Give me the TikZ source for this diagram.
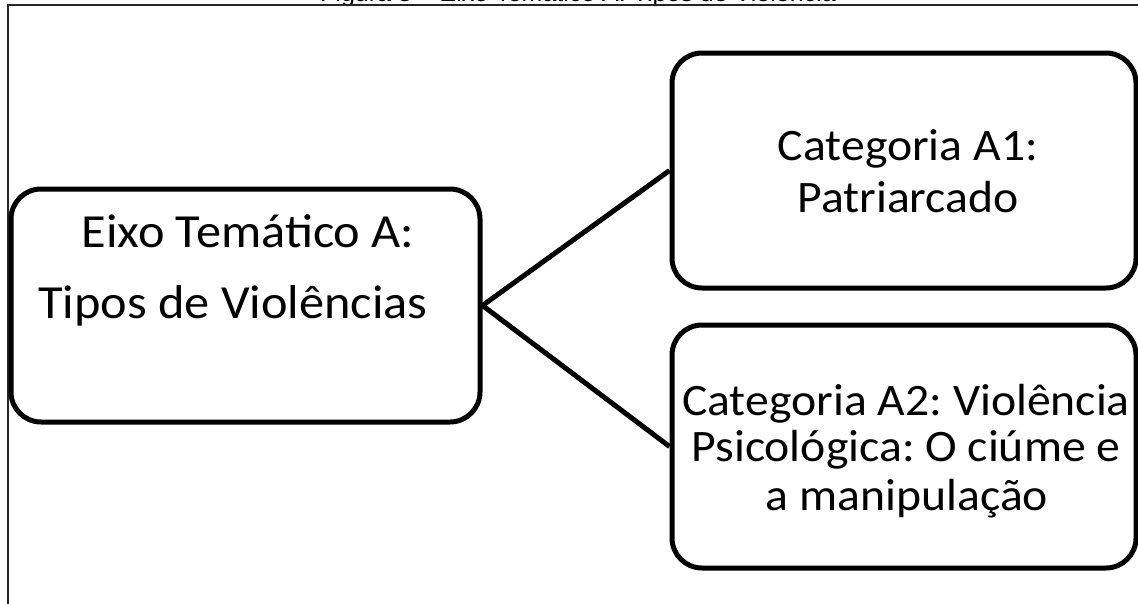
\documentclass[tikz,border=0pt]{standalone}
\usepackage{fontspec}
\setmainfont{Carlito}
\newfontfamily\boxfont[FakeStretch=1.06]{Carlito}
\newfontfamily\captionfont{Liberation Sans}
\frenchspacing
\begin{document}
\begin{tikzpicture}[x=1pt, y=-1pt,
  catbox/.style={draw=black, line width=5pt, rounded corners=30pt,
    rectangle, inner sep=0pt, fill=white},
  boxtext/.style={anchor=base, inner sep=0pt, font=\boxfont\fontsize{45pt}{46pt}\selectfont},
  bigtext/.style={anchor=base, inner sep=0pt, font=\boxfont\fontsize{47.5pt}{48pt}\selectfont},
  upper/.style={text depth=0pt},
  link/.style={draw=black, line width=5pt},
  frameline/.style={draw=black!85, line width=2pt}
]
\useasboundingbox (0,0) rectangle (1138,603);
\fill[white] (0,0) rectangle (1138,603);

% caption above the frame, mostly cut by the page edge
\begin{scope}
  \clip (0,0) rectangle (1138,603);
  \node[anchor=base west, inner sep=0pt, font=\captionfont\fontsize{25pt}{25pt}\selectfont]
    (caption) at (320,1.2) {Figura 3 – Eixo Temático A: Tipos de Violência};
\end{scope}

% outer frame
\draw[frameline] (1140,5) -- (8,5) -- (8,605);

% boxes
\node[catbox, minimum width=469pt, minimum height=233pt] (eixo) at (245.5,305.5) {};
\node[catbox, minimum width=464pt, minimum height=235pt] (cat1) at (904,170.5) {};
\node[catbox, minimum width=464pt, minimum height=243pt] (cat2) at (904,446.5) {};

% connectors
\coordinate (hub) at (eixo.east);
\draw[link, line join=miter] (cat1.west) -- (hub) -- (cat2.west);

% labels
\node[bigtext] (eixoA) at (248,247) {Eixo Temático A:};
\node[bigtext] (eixoB) at (233,318) {Tipos de Violências};

\node[boxtext, upper] (c1a) at (908,160) {Categoria A1:};
\node[boxtext] (c1b) at (908,212) {Patriarcado};

\node[boxtext, upper] (c2a) at (906,415) {Categoria A2: Violência};
\node[boxtext, upper] (c2b) at (906,461) {Psicológica: O ciúme e};
\node[boxtext] (c2c) at (907,510) {a manipulação};
\end{tikzpicture}
\end{document}
